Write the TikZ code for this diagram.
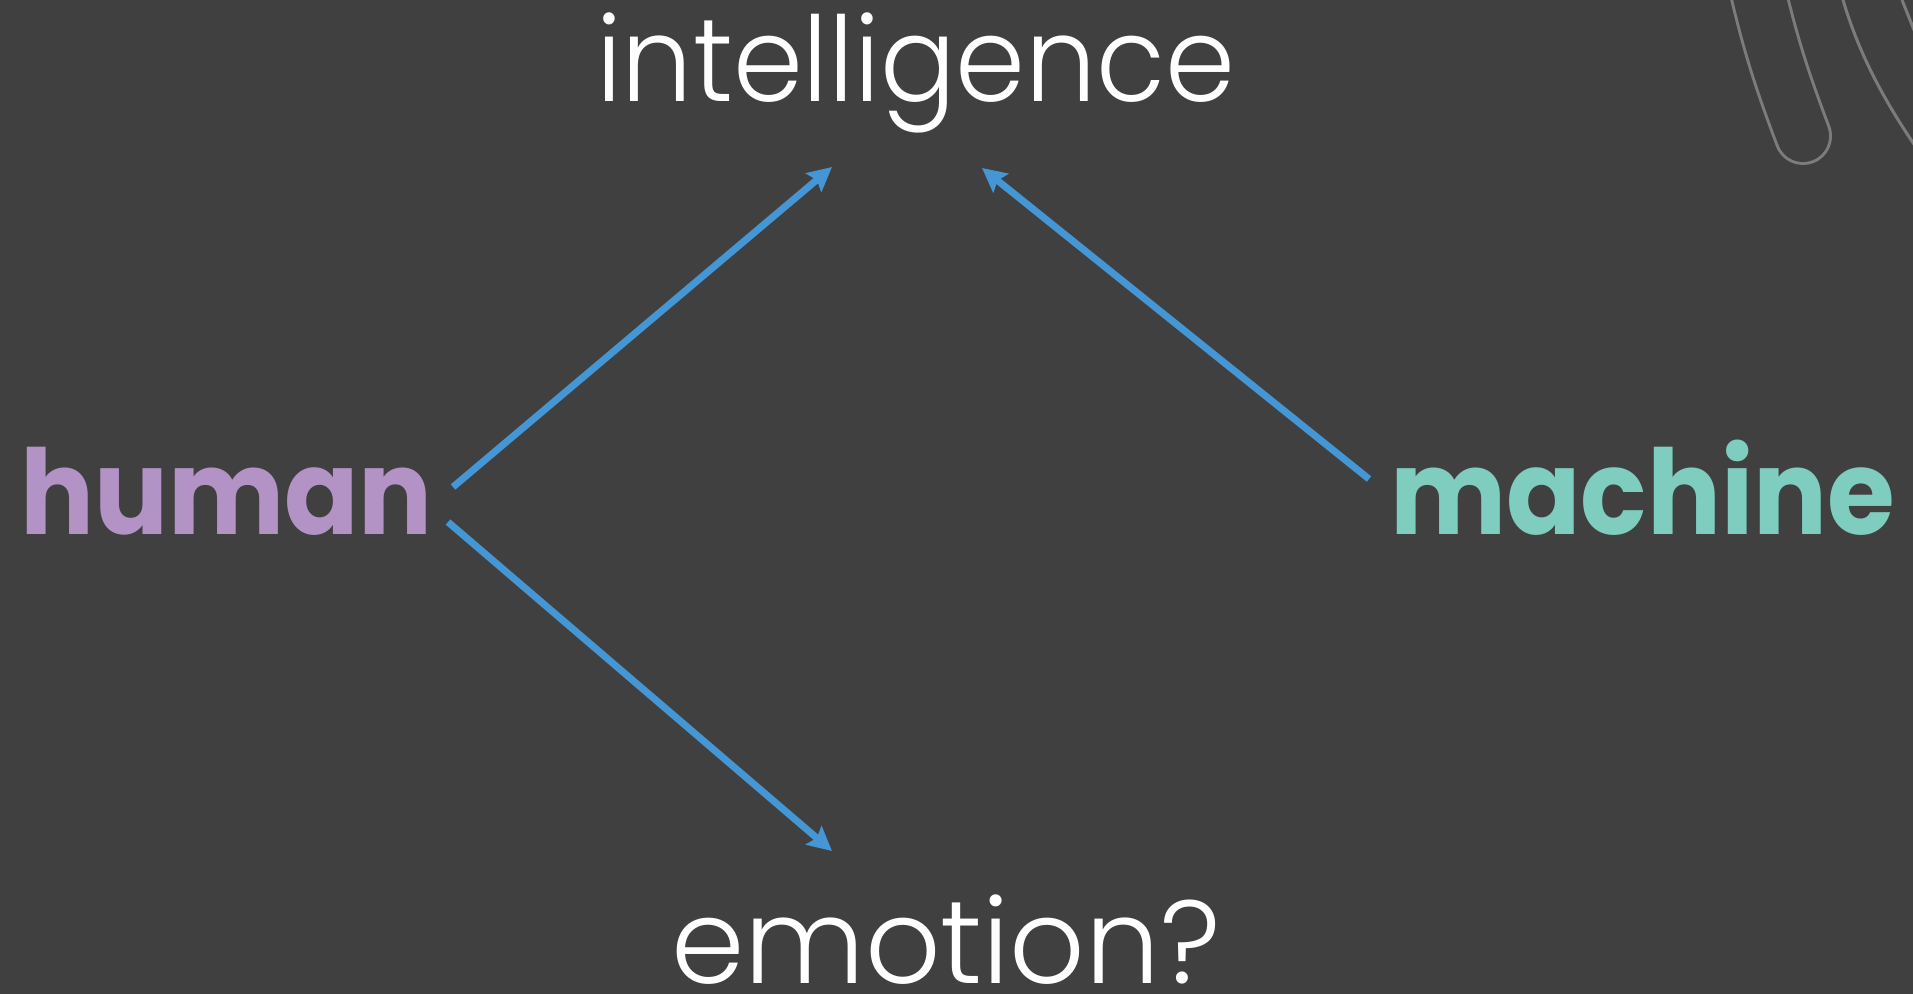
\documentclass[tikz,border=0pt]{standalone}
\usepackage{fontspec}
\usetikzlibrary{arrows.meta}
\newfontfamily\thinfont{Poppins Light}
\newfontfamily\thinnarrowfont{Poppins Light}[FakeStretch=0.952]
\newfontfamily\heavyfont{Poppins Bold}[FakeStretch=0.93]
\definecolor{bg}{HTML}{404040}
\definecolor{humancol}{HTML}{B393C6}
\definecolor{machinecol}{HTML}{7ECDBF}
\definecolor{arrowcol}{HTML}{4496D5}
\definecolor{decocol}{HTML}{7C7C7C}
\begin{document}
\begin{tikzpicture}[x=1pt,y=-1pt,
  word/.style={inner sep=0pt, anchor=base west, text=white, font=\thinfont\fontsize{118}{118}\selectfont},
  bigword/.style={inner sep=0pt, anchor=base west, font=\heavyfont\fontsize{118}{118}\selectfont},
  link/.style={draw=arrowcol, line width=7pt, -{Stealth[length=24pt,width=24pt,inset=4pt]}},
  deco/.style={draw=decocol, line width=3pt}]
\fill[bg] (0,0) rectangle (1913,994);
\useasboundingbox (0,0) rectangle (1913,994);

% corner ornament: rounded band and two sweeping strokes
\begin{scope}
\clip (0,0) rectangle (1913,994);
\draw[decocol, line width=58pt, line cap=round] (1753,-30) to[bend right=4] (1803,136);
\draw[bg, line width=52pt, line cap=round] (1753,-30) to[bend right=4] (1803,136);
\draw[deco] (1843,0) .. controls (1855,40) and (1875,90) .. (1925,160);
\draw[deco] (1902,0) -- (1918,40);
\end{scope}

% labels
\node[word, font=\thinnarrowfont\fontsize{118}{118}\selectfont] (intel) at (596,101) {intelligence};
\node[word] (emo) at (671,983) {emotion?};
\node[bigword, text=humancol] (human) at (20,534) {human};
\node[bigword, text=machinecol] (machine) at (1390,534) {machine};

% connector end points
\coordinate (hStartUp) at (453,487);
\coordinate (hStartDown) at (448,522);
\coordinate (mStart) at (1369,479);
\coordinate (iLeft) at (832,167);
\coordinate (iRight) at (982,168);
\coordinate (eTop) at (832,851);

\draw[link] (hStartUp) -- (iLeft);
\draw[link] (mStart) -- (iRight);
\draw[link] (hStartDown) -- (eTop);
\end{tikzpicture}
\end{document}
